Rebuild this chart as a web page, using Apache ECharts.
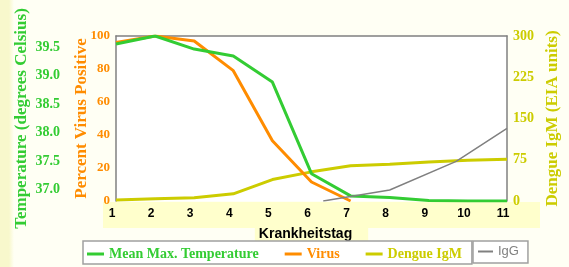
<!DOCTYPE html>
<html>
<head>
<meta charset="utf-8">
<script src="https://cdn.jsdelivr.net/npm/echarts@6/dist/echarts.min.js"></script>
<style>
  html, body { margin: 0; padding: 0; }
  body {
    background: linear-gradient(to right, #f8f8cc 0, #f8f8cc 9px, #fffff4 14px, #fffff4 100%);
  }
  #chart { width: 569px; height: 267px; }
</style>
</head>
<body>
<div id="chart"></div>
<script>
const days = [1, 2, 3, 4, 5, 6, 7, 8, 9, 10, 11]
const temperature = [39.56, 39.7, 39.47, 39.35, 38.89, 37.28, 36.89, 36.86, 36.81, 36.8, 36.8]
const virus = [96, 100, 97, 79, 36.5, 11.5, 0]
const igm = [2, 4, 6, 13, 39, 53, 64, 67, 71, 74, 76]
const igg = [[6.3, 0], [8, 20], [9.7, 72], [11, 132]]
const tempTicks = [37, 37.5, 38, 38.5, 39, 39.5]

const GREEN = '#33cc33'
const ORANGE = '#ff8c00'
const YELLOW = '#cccc00'
const GREY = '#808080'
const serif = '"Liberation Serif", "DejaVu Serif", serif'
const sans = '"Liberation Sans", Arial, sans-serif'

const pair = (vals) => vals.map((v, i) => [days[i], v])

const chart = echarts.init(document.getElementById('chart'), null, { renderer: 'canvas' })

chart.setOption({
  animation: false,
  grid: { left: 116, right: 60, top: 36, bottom: 66, backgroundColor: '#fff', show: true, borderWidth: 0 },
  graphic: [
    { type: 'rect', z: -10, shape: { x: 103, y: 202, width: 437, height: 26 }, style: { fill: '#ffffcc' } },
  ],
  legend: [
    {
      left: 83, top: 241,
      padding: [6, 10, 3, 4],
      itemGap: 26, itemWidth: 17, itemHeight: 3, icon: 'rect',
      backgroundColor: '#fff', borderColor: '#a0a0a0', borderWidth: 1.5,
      textStyle: { fontFamily: serif, fontWeight: 'bold', fontSize: 14 },
      data: [
        { name: 'Mean Max. Temperature', textStyle: { color: GREEN } },
        { name: 'Virus', textStyle: { color: ORANGE } },
        { name: 'Dengue IgM', textStyle: { color: YELLOW } },
      ],
    },
    {
      left: 473, top: 241,
      padding: [4, 9, 5, 5],
      itemWidth: 15, itemHeight: 2, icon: 'rect',
      backgroundColor: '#fff', borderColor: '#a0a0a0', borderWidth: 1.5,
      textStyle: { fontFamily: sans, fontSize: 13, color: GREY },
      data: ['IgG'],
    },
  ],
  xAxis: [
    {
      type: 'value', min: 1, max: 11, interval: 1,
      name: 'Krankheitstag', nameLocation: 'middle', nameGap: 19,
      nameTextStyle: {
        fontFamily: sans, fontWeight: 'bold', fontSize: 14, color: '#000',
        backgroundColor: '#ffffcc', padding: [2, 16, 2, 4],
      },
      axisLine: { show: false },
      axisTick: { show: false },
      splitLine: { show: false },
      axisLabel: {
        fontFamily: sans, fontWeight: 'bold', fontSize: 12, color: '#000', margin: 7,
        padding: [0, 8, 0, 0],
      },
    },
    {
      type: 'value', min: 1, max: 11, position: 'top',
      axisLine: { show: true, onZero: false, lineStyle: { color: GREY, width: 1.5 } },
      axisTick: { show: false }, axisLabel: { show: false }, splitLine: { show: false },
    },
  ],
  yAxis: [
    {
      type: 'value', min: 36.8, max: 39.7, position: 'left', offset: 48,
      name: 'Temperature (degrees Celsius)', nameLocation: 'middle', nameGap: 38,
      nameMoveOverlap: false,
      nameTextStyle: { fontFamily: serif, fontWeight: 'bold', fontSize: 17, color: GREEN },
      axisLine: { show: false }, axisTick: { show: false }, splitLine: { show: false },
      axisLabel: {
        customValues: tempTicks, margin: 8,
        fontFamily: serif, fontWeight: 'bold', fontSize: 14, color: GREEN,
        formatter: (v) => v.toFixed(1),
      },
    },
    {
      type: 'value', min: 0, max: 100, interval: 20, position: 'left',
      name: 'Percent Virus Positive', nameLocation: 'middle', nameGap: 26,
      nameMoveOverlap: false,
      nameTextStyle: { fontFamily: serif, fontWeight: 'bold', fontSize: 17, color: ORANGE },
      axisLine: { show: true, onZero: false, lineStyle: { color: GREY, width: 1.5 } },
      axisTick: { show: false }, splitLine: { show: false },
      axisLabel: { margin: 6, fontFamily: serif, fontWeight: 'bold', fontSize: 13, color: ORANGE },
    },
    {
      type: 'value', min: 0, max: 300, interval: 75, position: 'right',
      name: 'Dengue IgM (EIA units)', nameLocation: 'middle', nameGap: 37, nameRotate: 90,
      nameMoveOverlap: false,
      nameTextStyle: { fontFamily: serif, fontWeight: 'bold', fontSize: 17, color: YELLOW },
      axisLine: { show: true, onZero: false, lineStyle: { color: GREY, width: 1.5 } },
      axisTick: { show: false }, splitLine: { show: false },
      axisLabel: { margin: 6, fontFamily: serif, fontWeight: 'bold', fontSize: 14, color: YELLOW },
    },
  ],
  series: [
    { name: 'Dengue IgM', type: 'line', yAxisIndex: 2, data: pair(igm), symbol: 'none',
      lineStyle: { color: YELLOW, width: 3 }, itemStyle: { color: YELLOW } },
    { name: 'Virus', type: 'line', yAxisIndex: 1, data: pair(virus), symbol: 'none',
      lineStyle: { color: ORANGE, width: 3 }, itemStyle: { color: ORANGE } },
    { name: 'Mean Max. Temperature', type: 'line', yAxisIndex: 0, data: pair(temperature), symbol: 'none',
      lineStyle: { color: GREEN, width: 3 }, itemStyle: { color: GREEN } },
    { name: 'IgG', type: 'line', yAxisIndex: 2, data: igg, symbol: 'none',
      lineStyle: { color: GREY, width: 1.5 }, itemStyle: { color: GREY } },
  ],
})
</script>
</body>
</html>
